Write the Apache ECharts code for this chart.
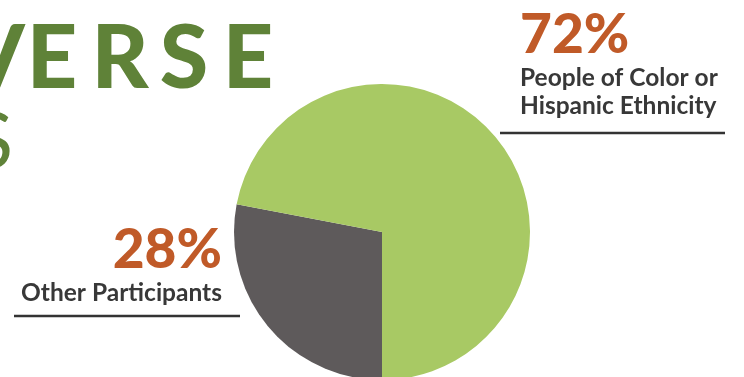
<!DOCTYPE html>
<html><head><meta charset="utf-8">
<script src="https://cdn.jsdelivr.net/npm/echarts@6/dist/echarts.min.js"></script>
<style>html,body{margin:0;padding:0;background:#fff}#c{width:744px;height:377px}</style>
</head><body><div id="c"></div>
<script>
const categories = ['Other Participants', 'People of Color or\nHispanic Ethnicity'];
const values = [28, 72];
const colors = ['#5e5a5b', '#a8c964'];
const titleLetters = ['V','E','R','S','E'];

const chart = echarts.init(document.getElementById('c'), null, {renderer:'canvas'});
const letterX = [-6, 52, 120, 184, 248];
const graphics = titleLetters.map((ch, i) => ({
  type:'text', x: letterX[i], y: 60,
  style:{text: ch, font:'900 88px Lato', fill:'#5f8238', align:'center', verticalAlign:'middle'}
}));
graphics.push({type:'text', x:-8, y:143, style:{text:'S', font:'400 78px Lato', fill:'#5f8238', align:'center', verticalAlign:'middle'}});
graphics.push({type:'line', shape:{x1:500,y1:133,x2:725,y2:133}, style:{stroke:'#333', lineWidth:2.5}});
graphics.push({type:'line', shape:{x1:14,y1:316,x2:240,y2:316}, style:{stroke:'#333', lineWidth:2.5}});

chart.setOption({
  animation:false,
  graphic: graphics,
  series:[{
    type:'pie',
    center:[382, 232],
    radius:[0, 148],
    startAngle:270,
    clockwise:true,
    silent:true,
    data: categories.map((n,i)=>({name:n, value:values[i], itemStyle:{color:colors[i]}})),
    labelLine:{show:false},
    label:{
      show:true,
      overflow:'none',
      width:400,
      formatter: p => '{pct|' + p.value + '%}\n{name|' + p.name.split('\n').join('}\n{name|') + '}',
      rich:{
        pct:{fontFamily:'Lato', fontWeight:900, fontSize:55, color:'#c05a28', lineHeight:57},
        name:{fontFamily:'Lato', fontWeight:700, fontSize:24.5, color:'#383838', lineHeight:28}
      }
    },
    labelLayout: function(params){
      if (params.dataIndex === 1) return {x:520, y:7, align:'left', verticalAlign:'top'};
      return {x:222, y:222, align:'right', verticalAlign:'top'};
    }
  }]
});
</script></body></html>
